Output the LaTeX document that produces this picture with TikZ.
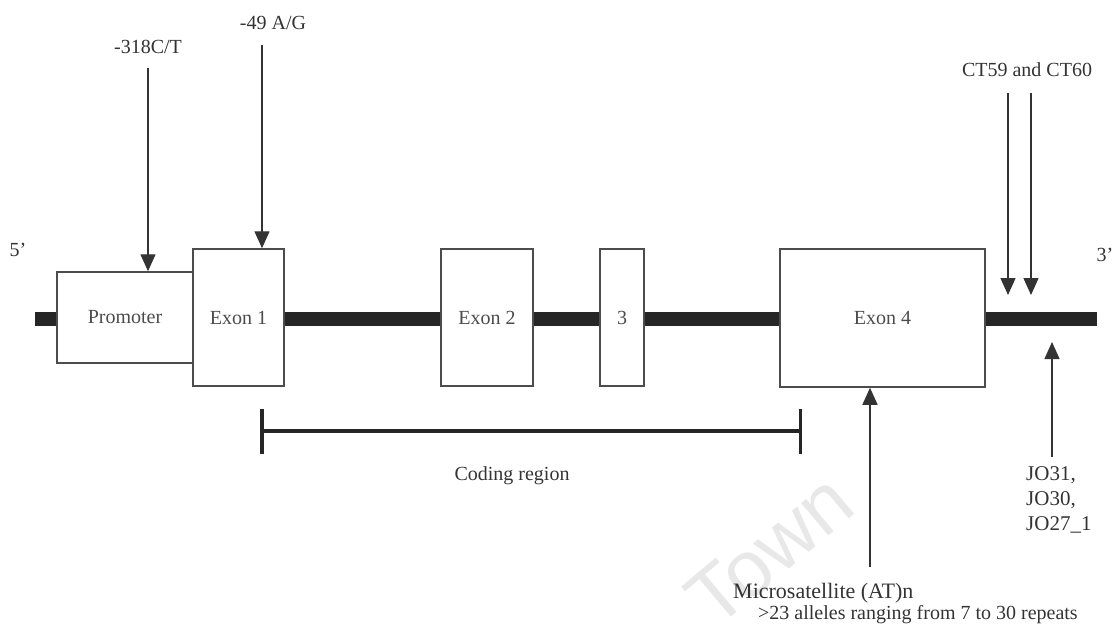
\documentclass[tikz,border=0pt]{standalone}
\usepackage{fontspec}
\setmainfont{Liberation Serif}
\newfontfamily\marksans{Liberation Sans}
\usetikzlibrary{arrows.meta,positioning}

\begin{document}
\begin{tikzpicture}[x=1pt,y=-1pt,>={Triangle[length=17pt,width=15pt]},
    box/.style={draw=black!70,line width=1.5pt,fill=white,inner sep=0pt,
                font=\fontsize{20}{24}\selectfont,text=black!70},
    lbl/.style={font=\fontsize{20}{25}\selectfont,text=black!80,inner sep=0pt},
    snp/.style={->,line width=1.4pt,draw=black!80}]
    \useasboundingbox (0,0) rectangle (1117,627);

    % watermark
    \node[font=\marksans\fontsize{80}{80}\selectfont,text=black!9,rotate=40] (town) at (770,550) {Town};

    % gene backbone
    \coordinate (left) at (35,319);
    \coordinate (right) at (1097,319);
    \draw[line width=14pt,black!85] (left) -- (right);

    % promoter and exons
    \node[box,minimum width=136pt,minimum height=91pt] (promoter) at (125,317.5) {Promoter};
    \node[box,minimum width=91pt,minimum height=137pt] (exon1) at (238.5,317.5) {Exon 1};
    \node[box,minimum width=92pt,minimum height=137pt] (exon2) at (487,317.5) {Exon 2};
    \node[box,minimum width=44pt,minimum height=137pt] (exon3) at (622,317.5) {3};
    \node[box,minimum width=205pt,minimum height=138pt] (exon4) at (882.5,318) {Exon 4};

    % 5' and 3' ends
    \node[lbl] (five) at (18,250) {5’};
    \node[lbl] (three) at (1105,255) {3’};

    % -318C/T
    \node[lbl] (c318) at (148,47) {-318C/T};
    \coordinate (t318) at (148,68);
    \draw[snp] (t318) -- (t318 |- promoter.north);

    % -49 A/G
    \node[lbl] (a49) at (273,23) {-49 A/G};
    \coordinate (t49) at (262,45);
    \draw[snp] (t49) -- (t49 |- exon1.north);

    % CT59 and CT60
    \node[lbl] (ct) at (1027,70) {CT59 and CT60};
    \coordinate (ct59) at (1008,93);
    \coordinate (ct59end) at (1008,295);
    \coordinate (ct60) at (1031,93);
    \coordinate (ct60end) at (1031,295);
    \draw[snp] (ct59) -- (ct59end);
    \draw[snp] (ct60) -- (ct60end);

    % JO markers
    \coordinate (jo) at (1052,457);
    \coordinate (jotip) at (1052,342);
    \draw[snp] (jo) -- (jotip);
    \node[lbl,font=\fontsize{21}{25}\selectfont,align=left,anchor=north west] (jolbl) at (1026,466) {JO31,\\JO30,\\JO27\_1};

    % microsatellite
    \coordinate (ms) at (870,567);
    \draw[snp] (ms) -- (ms |- exon4.south);
    \node[lbl,font=\fontsize{22}{25}\selectfont,anchor=west] (mslbl) at (733,593) {Microsatellite (AT)n};
    \node[lbl,anchor=west] (alleles) at (758,615) {>23 alleles ranging from 7 to 30 repeats};

    % coding region
    \coordinate (cds1) at (260,431);
    \coordinate (cds2) at (802,431);
    \draw[line width=3.5pt,black!85,{Bar[width=45pt]}-{Bar[width=45pt]}] (cds1) -- (cds2);
    \node[lbl] (cdslbl) at (512,476) {Coding region};
\end{tikzpicture}
\end{document}
